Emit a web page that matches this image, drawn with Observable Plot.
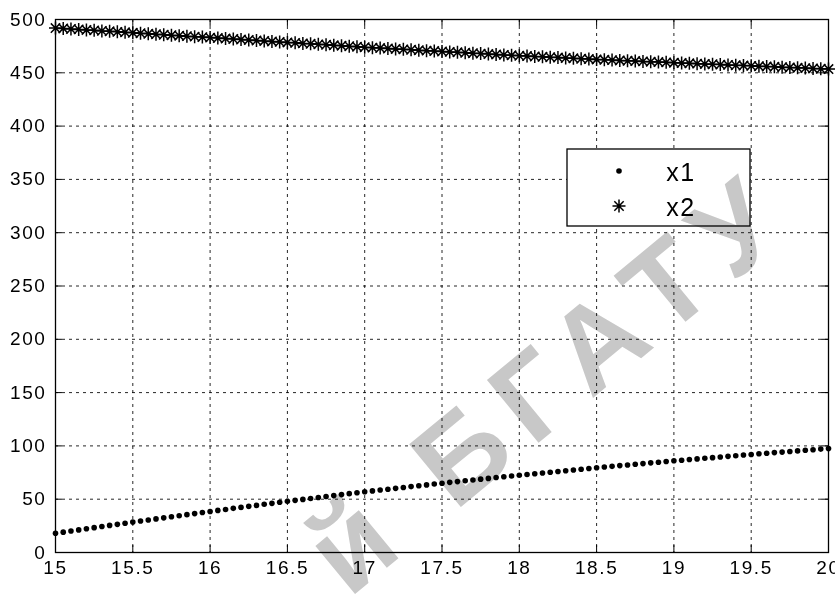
<!DOCTYPE html>
<html>
<head>
<meta charset="utf-8">
<script src="https://cdn.jsdelivr.net/npm/d3@7"></script>
<script src="https://cdn.jsdelivr.net/npm/@observablehq/plot@0.6"></script>
<style>
  html, body { margin: 0; padding: 0; background: #fff; }
  #wrap { position: relative; width: 835px; height: 607px; overflow: hidden; }
  #wm { position: absolute; left: 0; top: 0; mix-blend-mode: multiply; pointer-events: none; }
  svg text { letter-spacing: 1.6px; }
</style>
</head>
<body>
<div id="wrap"></div>
<script>
// ---- data ----
const t = [15.00,15.05,15.10,15.15,15.20,15.25,15.30,15.35,15.40,15.45,
           15.50,15.55,15.60,15.65,15.70,15.75,15.80,15.85,15.90,15.95,
           16.00,16.05,16.10,16.15,16.20,16.25,16.30,16.35,16.40,16.45,
           16.50,16.55,16.60,16.65,16.70,16.75,16.80,16.85,16.90,16.95,
           17.00,17.05,17.10,17.15,17.20,17.25,17.30,17.35,17.40,17.45,
           17.50,17.55,17.60,17.65,17.70,17.75,17.80,17.85,17.90,17.95,
           18.00,18.05,18.10,18.15,18.20,18.25,18.30,18.35,18.40,18.45,
           18.50,18.55,18.60,18.65,18.70,18.75,18.80,18.85,18.90,18.95,
           19.00,19.05,19.10,19.15,19.20,19.25,19.30,19.35,19.40,19.45,
           19.50,19.55,19.60,19.65,19.70,19.75,19.80,19.85,19.90,19.95,
           20.00];
const x1 = [18.0,19.1,20.2,21.2,22.3,23.3,24.4,25.4,26.4,27.5,
            28.5,29.5,30.5,31.5,32.5,33.5,34.5,35.5,36.5,37.5,
            38.5,39.5,40.4,41.4,42.3,43.3,44.2,45.2,46.1,47.1,
            48.0,48.9,49.8,50.7,51.6,52.5,53.4,54.3,55.2,56.1,
            57.0,57.8,58.6,59.4,60.2,61.0,61.8,62.6,63.4,64.2,
            65.0,65.8,66.5,67.3,68.0,68.8,69.5,70.3,71.0,71.8,
            72.5,73.2,73.9,74.6,75.3,76.0,76.7,77.4,78.1,78.8,
            79.5,80.2,80.8,81.5,82.1,82.8,83.4,84.1,84.7,85.4,
            86.0,86.6,87.2,87.8,88.4,89.0,89.6,90.2,90.8,91.4,
            92.0,92.6,93.1,93.7,94.2,94.8,95.3,95.9,96.4,97.0,
            97.5];
const x2 = [492.0,491.6,491.1,490.7,490.2,489.8,489.3,488.9,488.4,488.0,
            487.5,487.1,486.6,486.2,485.7,485.3,484.8,484.4,483.9,483.5,
            483.0,482.6,482.1,481.7,481.2,480.8,480.3,479.9,479.4,479.0,
            478.5,478.1,477.6,477.2,476.7,476.3,475.8,475.4,474.9,474.5,
            474.0,473.6,473.2,472.8,472.4,472.0,471.6,471.2,470.8,470.4,
            470.0,469.6,469.2,468.8,468.4,468.0,467.6,467.2,466.8,466.4,
            466.0,465.7,465.3,465.0,464.6,464.3,463.9,463.6,463.2,462.9,
            462.5,462.2,461.9,461.6,461.3,461.0,460.7,460.4,460.1,459.8,
            459.5,459.2,458.9,458.6,458.3,458.0,457.7,457.4,457.1,456.8,
            456.5,456.2,455.9,455.6,455.3,455.0,454.7,454.4,454.1,453.8,
            453.5];
const xTicks = [15, 15.5, 16, 16.5, 17, 17.5, 18, 18.5, 19, 19.5, 20];
const yTicks = [0, 50, 100, 150, 200, 250, 300, 350, 400, 450, 500];
const seriesNames = ["x1", "x2"];
const watermark = "й БГАТУ";

const rows1 = t.map((v, i) => ({t: v, y: x1[i]}));
const rows2 = t.map((v, i) => ({t: v, y: x2[i]}));

// MATLAB-like 8-arm asterisk
const asterisk = {
  draw(ctx, size) {
    const r = Math.sqrt(size / Math.PI);
    const d = r * 0.72;
    ctx.moveTo(-r, 0); ctx.lineTo(r, 0);
    ctx.moveTo(0, -r); ctx.lineTo(0, r);
    ctx.moveTo(-d, -d); ctx.lineTo(d, d);
    ctx.moveTo(-d, d); ctx.lineTo(d, -d);
  }
};

const W = 835, H = 607;
const mL = 55, mR = 7, mT = 19, mB = 55;
const tickLenY = 6.5;   // in y units (~7px)
const tickLenX = 0.045; // in x units (~7px)

const plot = Plot.plot({
  width: W, height: H,
  marginLeft: mL, marginRight: mR, marginTop: mT, marginBottom: mB,
  style: {background: "transparent", fontFamily: "'Liberation Sans', Arial, sans-serif", fontSize: "19px", color: "#000"},
  x: {domain: [15, 20], ticks: xTicks},
  y: {domain: [0, 500], ticks: yTicks},
  marks: [
    Plot.gridX(xTicks, {stroke: "#000", strokeOpacity: 0.85, strokeDasharray: "3,4"}),
    Plot.gridY(yTicks, {stroke: "#000", strokeOpacity: 0.85, strokeDasharray: "3,4"}),
    Plot.ruleX(xTicks, {x: d => d, y1: 0, y2: tickLenY, stroke: "#000"}),
    Plot.ruleX(xTicks, {x: d => d, y1: 500 - tickLenY, y2: 500, stroke: "#000"}),
    Plot.ruleY(yTicks, {y: d => d, x1: 15, x2: 15 + tickLenX, stroke: "#000"}),
    Plot.ruleY(yTicks, {y: d => d, x1: 20 - tickLenX, x2: 20, stroke: "#000"}),
    Plot.frame({stroke: "#000", strokeWidth: 1.3}),
    Plot.axisX(xTicks, {tickSize: 0, tickPadding: 8, fontSize: 19, tickFormat: d => String(d), label: null}),
    Plot.axisY(yTicks, {tickSize: 0, tickPadding: 9, fontSize: 19, tickFormat: d => String(d), label: null}),
    Plot.dot(rows1, {x: "t", y: "y", r: 2.8, fill: "#000", stroke: "none"}),
    Plot.dot(rows2, {x: "t", y: "y", r: 6.5, symbol: asterisk, fill: "none", stroke: "#000", strokeWidth: 1.5})
  ]
});

document.getElementById("wrap").appendChild(plot);

// ---- legend (box inside axes) ----
const svg = d3.select(plot);
const lg = svg.append("g").attr("transform", "translate(567,149)");
lg.append("rect").attr("width", 183).attr("height", 77).attr("fill", "#fff").attr("stroke", "#000").attr("stroke-width", 1.3);
lg.append("circle").attr("cx", 52).attr("cy", 22).attr("r", 2.8).attr("fill", "#000");
const ar = 6.5, ad = ar * 0.72;
lg.append("path").attr("transform", "translate(52,57)")
  .attr("d", `M${-ar},0L${ar},0M0,${-ar}L0,${ar}M${-ad},${-ad}L${ad},${ad}M${-ad},${ad}L${ad},${-ad}`)
  .attr("stroke", "#000").attr("fill", "none").attr("stroke-width", 1.5);
seriesNames.forEach((name, i) => {
  lg.append("text").attr("x", 114).attr("y", i === 0 ? 23 : 58).attr("dy", "0.36em")
    .attr("font-size", 25).attr("font-family", "'Liberation Sans', Arial, sans-serif")
    .attr("fill", "#000").text(name);
});

// ---- watermark ----
const wm = d3.select("#wrap").append("svg").attr("id", "wm").attr("width", W).attr("height", H);
wm.append("text")
  .attr("transform", "translate(548,380) rotate(-39.5)")
  .attr("text-anchor", "middle").attr("dy", "0.36em")
  .attr("font-family", "'Liberation Sans', Arial, sans-serif").attr("font-weight", "bold")
  .attr("font-size", 118).attr("fill", "#c8c8c8").style("letter-spacing", "16px")
  .text(watermark);
</script>
</body>
</html>
